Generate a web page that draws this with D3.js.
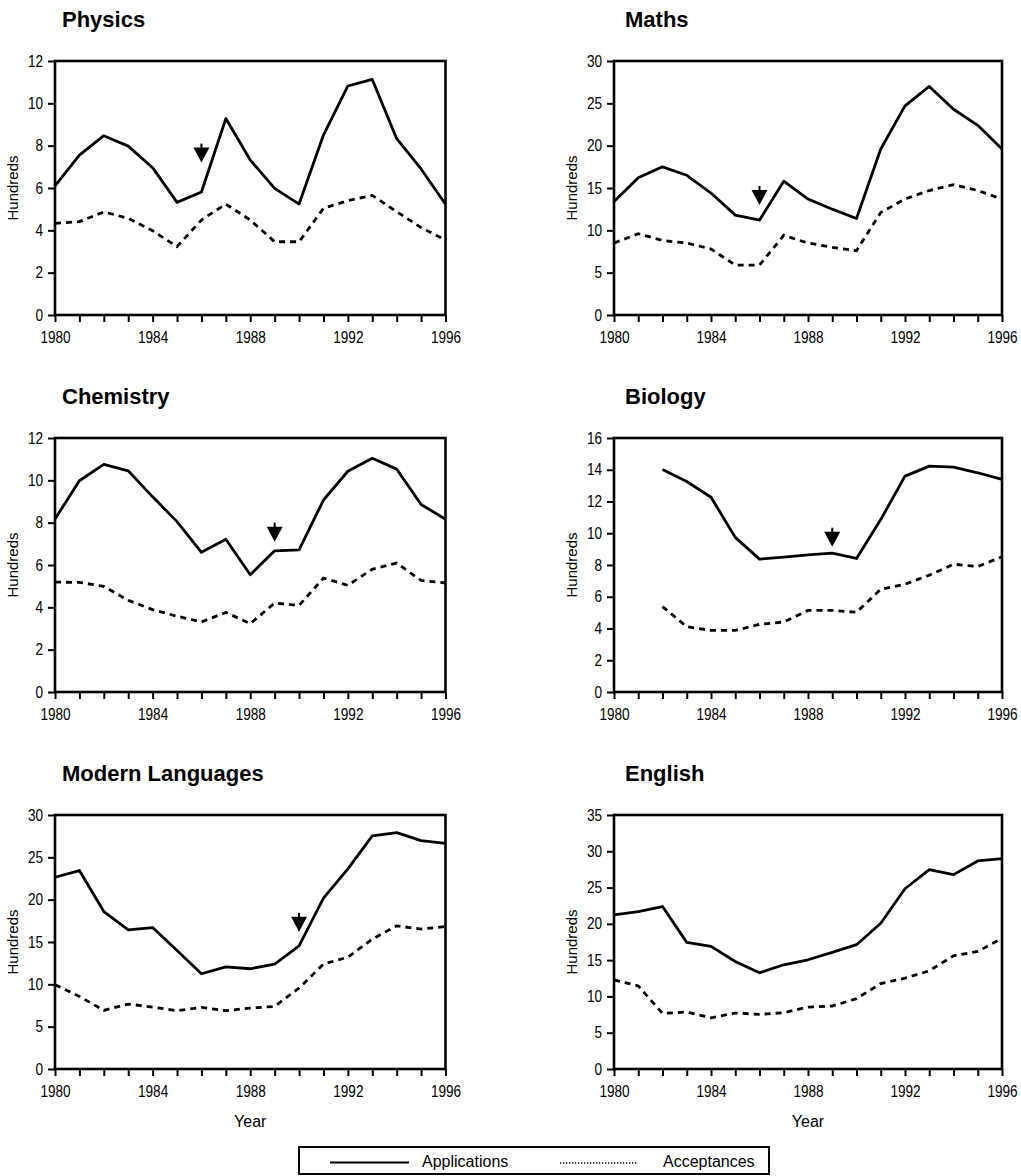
<!DOCTYPE html>
<html lang="en">
<head>
  <meta charset="UTF-8" />
  <title>Applications and acceptances by subject, 1980–1996</title>
  <script src="https://d3js.org/d3.v7.min.js"></script>
  <style>
    body {
      margin: 0;
      background: #fff;
    }
    svg text {
      font-family: "Liberation Sans", Arial, sans-serif;
      fill: #000;
    }
    .title {
      font-weight: bold;
      font-size: 22px;
    }
    .tick text {
      font-size: 16px;
    }
    .axis-label {
      font-size: 15px;
    }
    .legend-text {
      font-size: 16px;
    }
  </style>
</head>
<body>
  <div id="chart"></div>
  <script>
    // data (hundreds)
    const years = [1980, 1981, 1982, 1983, 1984, 1985, 1986, 1987, 1988,
                   1989, 1990, 1991, 1992, 1993, 1994, 1995, 1996];
    const subjects = ["Physics", "Maths", "Chemistry", "Biology", "Modern Languages", "English"];

    const physicsApplications = [6.1, 7.55, 8.47, 7.98, 6.96, 5.32, 5.81, 9.28, 7.32, 5.98, 5.24, 8.5, 10.82, 11.13, 8.33, 6.9, 5.23];
    const physicsAcceptances  = [4.33, 4.41, 4.87, 4.57, 3.98, 3.23, 4.49, 5.24, 4.49, 3.46, 3.46, 5.04, 5.4, 5.65, 4.88, 4.13, 3.54];

    const mathsApplications = [13.4, 16.2, 17.5, 16.5, 14.4, 11.8, 11.2, 15.8, 13.7, 12.5, 11.4, 19.6, 24.7, 27.0, 24.3, 22.4, 19.6];
    const mathsAcceptances  = [8.5, 9.6, 8.8, 8.5, 7.8, 5.9, 5.9, 9.4, 8.5, 8.0, 7.6, 12.1, 13.7, 14.7, 15.4, 14.7, 13.7];

    const chemistryApplications = [8.17, 9.98, 10.75, 10.45, 9.22, 8.05, 6.6, 7.22, 5.54, 6.67, 6.71, 9.07, 10.43, 11.04, 10.53, 8.86, 8.16];
    const chemistryAcceptances  = [5.19, 5.18, 4.99, 4.33, 3.89, 3.58, 3.31, 3.76, 3.23, 4.2, 4.09, 5.38, 5.04, 5.8, 6.09, 5.27, 5.15];

    const biologyApplications = [null, null, 14.02, 13.26, 12.27, 9.74, 8.37, 8.49, 8.64, 8.75, 8.41, 10.86, 13.6, 14.23, 14.17, 13.81, 13.39];
    const biologyAcceptances  = [null, null, 5.38, 4.11, 3.88, 3.88, 4.26, 4.41, 5.14, 5.14, 5.02, 6.47, 6.79, 7.36, 8.05, 7.9, 8.52];

    const languagesApplications = [22.65, 23.44, 18.6, 16.44, 16.71, 14.0, 11.25, 12.07, 11.84, 12.39, 14.55, 20.17, 23.63, 27.53, 27.92, 26.98, 26.66];
    const languagesAcceptances  = [9.95, 8.57, 6.92, 7.67, 7.31, 6.88, 7.27, 6.88, 7.2, 7.39, 9.56, 12.39, 13.21, 15.34, 16.91, 16.52, 16.83];

    const englishApplications = [21.24, 21.7, 22.39, 17.45, 16.9, 14.82, 13.25, 14.36, 15.05, 16.07, 17.13, 20.08, 24.84, 27.47, 26.78, 28.67, 29.0];
    const englishAcceptances  = [12.28, 11.45, 7.66, 7.85, 7.06, 7.71, 7.53, 7.76, 8.54, 8.68, 9.7, 11.77, 12.51, 13.53, 15.6, 16.2, 18.0];

    const applications = [physicsApplications, mathsApplications, chemistryApplications,
                          biologyApplications, languagesApplications, englishApplications];
    const acceptances  = [physicsAcceptances, mathsAcceptances, chemistryAcceptances,
                          biologyAcceptances, languagesAcceptances, englishAcceptances];

    const yMax  = [12, 30, 12, 16, 30, 35];
    const yStep = [2, 5, 2, 2, 5, 5];
    const xLabelYears = [1980, 1984, 1988, 1992, 1996];

    // arrow markers (year, value at arrow tip)
    const arrowYears  = [1986, 1986, 1989, 1989, 1990, null];
    const arrowValues = [7.2, 13.0, 7.1, 9.15, 16.2, null];

    const legendLabels = ["Applications", "Acceptances"];

    // layout
    const W = 1021, H = 1176;
    const colX = [[55, 445.5], [614, 1002]];
    const rowY = [[61, 315], [438, 692], [815, 1069]];
    const narrow = "scale(0.85,1)"; // tick labels in the original are a narrow face

    const svg = d3.select("#chart")
      .append("svg")
      .attr("width", W)
      .attr("height", H);

    subjects.forEach((name, i) => {
      const col = i % 2, row = Math.floor(i / 2);
      const [left, right] = colX[col];
      const [top, bottom] = rowY[row];

      const x = d3.scaleLinear().domain([1980, 1996]).range([left, right]);
      const y = d3.scaleLinear().domain([0, yMax[i]]).range([bottom, top]);

      const g = svg.append("g");

      // title
      g.append("text")
        .attr("class", "title")
        .attr("x", left + (col === 0 ? 7 : 11))
        .attr("y", top - 34)
        .text(name);

      // y axis
      const yAxis = g.append("g")
        .attr("transform", `translate(${left},0)`)
        .call(d3.axisLeft(y)
          .tickValues(d3.range(0, yMax[i] + 0.001, yStep[i]))
          .tickSize(7)
          .tickPadding(7));
      yAxis.select(".domain").remove();
      yAxis.selectAll(".tick line").attr("stroke-width", 2);
      yAxis.selectAll(".tick text").attr("transform", narrow);

      // x axis
      const xAxis = g.append("g")
        .attr("transform", `translate(0,${bottom})`)
        .call(d3.axisBottom(x)
          .tickValues(years)
          .tickFormat(d => xLabelYears.includes(d) ? d : "")
          .tickSize(7)
          .tickPadding(10));
      xAxis.select(".domain").remove();
      xAxis.selectAll(".tick line").attr("stroke-width", 2);
      xAxis.selectAll(".tick text").attr("transform", narrow);

      // frame
      g.append("rect")
        .attr("x", left)
        .attr("y", top)
        .attr("width", right - left)
        .attr("height", bottom - top)
        .attr("fill", "none")
        .attr("stroke", "#000")
        .attr("stroke-width", 2.6);

      // y label
      g.append("text")
        .attr("class", "axis-label")
        .attr("transform", `translate(${left - 37},${(top + bottom) / 2}) rotate(-90)`)
        .attr("text-anchor", "middle")
        .text("Hundreds");

      if (row === 2) {
        g.append("text")
          .attr("class", "axis-label")
          .attr("x", (left + right) / 2)
          .attr("y", bottom + 58)
          .attr("text-anchor", "middle")
          .style("font-size", "16px")
          .text("Year");
      }

      const line = d3.line()
        .defined(d => d != null)
        .x((d, j) => x(years[j]))
        .y(d => y(d));

      g.append("path")
        .attr("d", line(applications[i]))
        .attr("fill", "none")
        .attr("stroke", "#000")
        .attr("stroke-width", 2.8)
        .attr("stroke-linejoin", "round");

      g.append("path")
        .attr("d", line(acceptances[i]))
        .attr("fill", "none")
        .attr("stroke", "#000")
        .attr("stroke-width", 2.8)
        .attr("stroke-dasharray", "6,5");

      // arrow
      if (arrowYears[i] != null) {
        const ax = x(arrowYears[i]), ay = y(arrowValues[i]);
        g.append("line")
          .attr("x1", ax).attr("x2", ax)
          .attr("y1", ay - 19).attr("y2", ay - 10)
          .attr("stroke", "#000")
          .attr("stroke-width", 2);
        g.append("path")
          .attr("d", `M${ax - 8},${ay - 15} L${ax + 8},${ay - 15} L${ax},${ay} Z`)
          .attr("fill", "#000");
      }
    });

    // legend
    const legend = svg.append("g");
    legend.append("rect")
      .attr("x", 299)
      .attr("y", 1147)
      .attr("width", 470)
      .attr("height", 27)
      .attr("fill", "none")
      .attr("stroke", "#000")
      .attr("stroke-width", 2);

    legend.append("line")
      .attr("x1", 330).attr("x2", 409)
      .attr("y1", 1162.5).attr("y2", 1162.5)
      .attr("stroke", "#000")
      .attr("stroke-width", 2);
    legend.append("text")
      .attr("class", "legend-text")
      .attr("x", 422)
      .attr("y", 1167)
      .text(legendLabels[0]);

    legend.append("line")
      .attr("x1", 560).attr("x2", 637)
      .attr("y1", 1163).attr("y2", 1163)
      .attr("stroke", "#000")
      .attr("stroke-width", 1.3)
      .attr("stroke-dasharray", "1.3,1.7");
    legend.append("text")
      .attr("class", "legend-text")
      .attr("x", 663)
      .attr("y", 1167)
      .text(legendLabels[1]);
  </script>
</body>
</html>
